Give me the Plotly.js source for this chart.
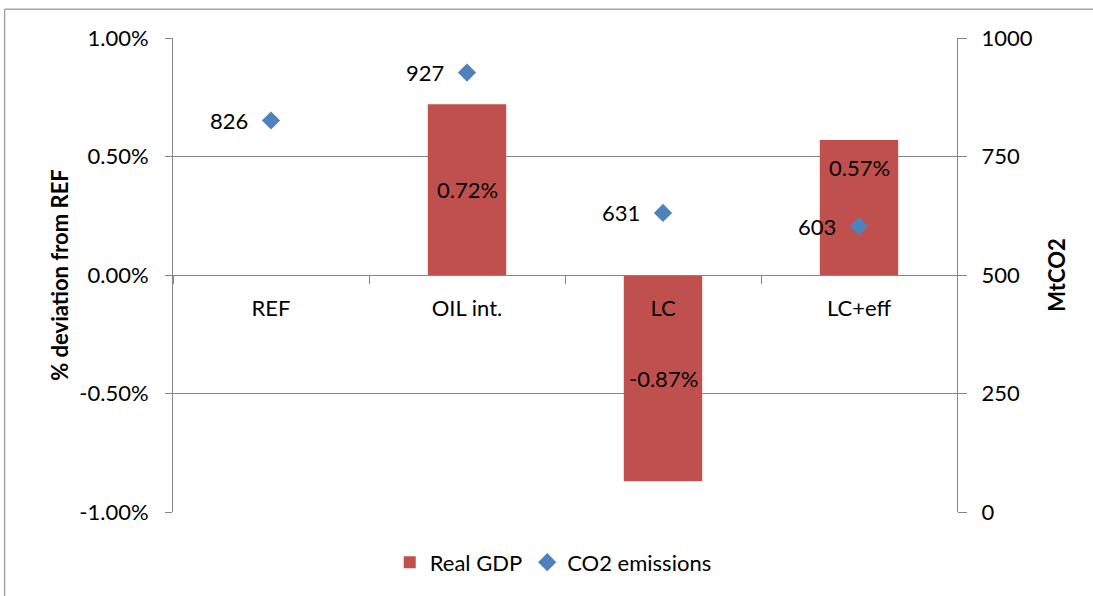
<!DOCTYPE html>
<html>
<head>
<meta charset="utf-8">
<script src="https://cdn.plot.ly/plotly-3.0.1.min.js"></script>
<style>
  html, body { margin: 0; padding: 0; background: #fff; }
  #chart { width: 1093px; height: 596px; }
</style>
</head>
<body>
<div id="chart"></div>
<script>
const categories = ["REF", "OIL int.", "LC", "LC+eff"];
const gdpDeviation = [null, 0.0072, -0.0087, 0.0057];
const gdpLabels = ["", "0.72%", "-0.87%", "0.57%"];
const co2Emissions = [826, 927, 631, 603];
const co2Labels = ["826", "927", "631", "603"];
const leftTicks = [-0.01, -0.005, 0, 0.005, 0.01];
const leftTickText = ["-1.00%", "-0.50%", "0.00%", "0.50%", "1.00%"];
const rightTicks = [0, 250, 500, 750, 1000];

const FONT = "Lato, 'Open Sans', sans-serif";
const FS = 22;
const GRID = "#868686";
const barLabelShift = [0, 0, 0, 40];

const traces = [
  {
    type: "bar",
    name: "Real GDP",
    x: categories,
    y: gdpDeviation,
    marker: { color: "#C0504D" },
    yaxis: "y",
    hoverinfo: "skip"
  },
  {
    type: "scatter",
    mode: "markers",
    name: "CO2 emissions",
    x: categories,
    y: co2Emissions,
    yaxis: "y2",
    marker: { symbol: "diamond", size: 14, color: "#4F81BD" },
    hoverinfo: "skip"
  }
];

const annotations = [];
categories.forEach((c, i) => {
  if (gdpDeviation[i] !== null) {
    annotations.push({
      x: c, y: gdpDeviation[i] / 2, xref: "x", yref: "y",
      text: gdpLabels[i], showarrow: false,
      xanchor: "center", yanchor: "middle", yshift: barLabelShift[i],
      font: { family: FONT, size: FS, color: "#000" }
    });
  }
  annotations.push({
    x: c, y: co2Emissions[i], xref: "x", yref: "y2",
    text: co2Labels[i], showarrow: false,
    xanchor: "right", yanchor: "middle", xshift: -21,
    font: { family: FONT, size: FS, color: "#000" }
  });
});

const layout = {
  width: 1093,
  height: 596,
  margin: { l: 173, r: 136, t: 37.5, b: 83.5, pad: 0, autoexpand: false },
  paper_bgcolor: "#fff",
  plot_bgcolor: "#fff",
  font: { family: FONT, size: FS, color: "#000" },
  showlegend: true,
  legend: {
    orientation: "h",
    x: 0.485, xanchor: "center",
    y: -0.062, yanchor: "top",
    font: { family: FONT, size: FS, color: "#000" },
    tracegroupgap: 0
  },
  bargap: 0.6,
  xaxis: {
    type: "category",
    anchor: "free",
    position: 0.5,
    showline: true,
    linecolor: GRID,
    linewidth: 1,
    showgrid: false,
    zeroline: false,
    ticks: "outside",
    tickson: "boundaries",
    ticklen: 8,
    tickcolor: GRID,
    ticklabelstandoff: 14,
    tickfont: { family: FONT, size: FS, color: "#000" }
  },
  yaxis: {
    range: [-0.01, 0.01],
    tickvals: leftTicks,
    ticktext: leftTickText,
    showline: true,
    linecolor: GRID,
    showgrid: true,
    gridcolor: GRID,
    gridwidth: 1,
    zeroline: true,
    zerolinecolor: GRID,
    zerolinewidth: 1,
    ticks: "outside",
    ticklen: 7,
    tickcolor: GRID,
    ticklabelstandoff: 12,
    tickfont: { family: FONT, size: FS, color: "#000" },
    title: { text: "<b>% deviation from REF</b>", font: { family: FONT, size: FS, color: "#000", weight: 700 }, standoff: 4 }
  },
  yaxis2: {
    overlaying: "y",
    side: "right",
    range: [0, 1000],
    tickvals: rightTicks,
    showline: true,
    linecolor: GRID,
    showgrid: false,
    zeroline: false,
    ticks: "outside",
    ticklen: 9,
    tickcolor: GRID,
    ticklabelstandoff: 10,
    tickfont: { family: FONT, size: FS, color: "#000" },
    title: { text: "<b>MtCO2</b>", font: { family: FONT, size: FS, color: "#000", weight: 700 }, standoff: 17 }
  },
  annotations: annotations,
  shapes: [
    { type: "line", xref: "paper", yref: "paper", x0: -0.2148, x1: 1.2, y0: 1.0605, y1: 1.0605, line: { color: "#A6A6A6", width: 1.5 } },
    { type: "line", xref: "paper", yref: "paper", x0: -0.2148, x1: -0.2148, y0: 1.0605, y1: -0.2, line: { color: "#A6A6A6", width: 1.5 } }
  ]
};

Plotly.newPlot("chart", traces, layout, { staticPlot: true, displayModeBar: false });
</script>
</body>
</html>
